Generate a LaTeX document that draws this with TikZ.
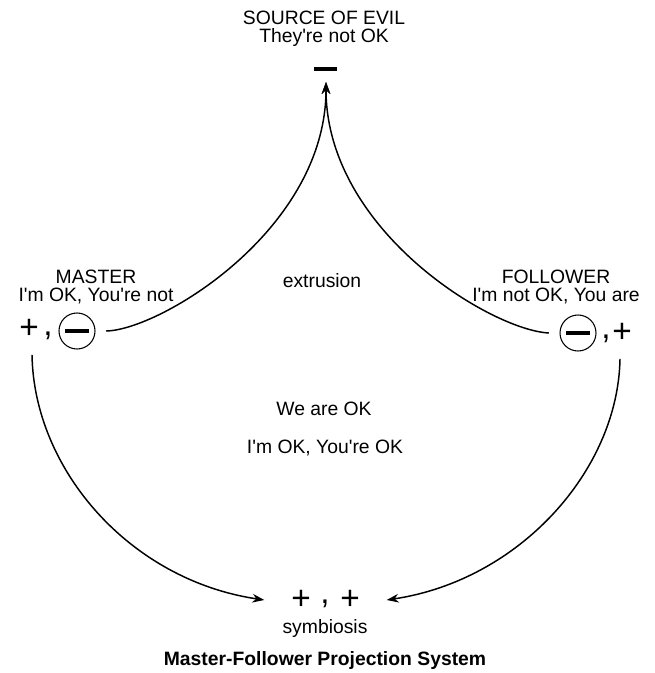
\documentclass[tikz,border=0pt]{standalone}
\usepackage{fontspec}
\setmainfont{Liberation Sans}[Ligatures=TeXOff]
\usetikzlibrary{arrows.meta,positioning}

\begin{document}
\begin{tikzpicture}[
                x=0.75pt, y=-0.75pt,
                lbl/.style={font=\fontsize{14.5}{13.6}\selectfont, inner sep=0pt, align=center},
                sym/.style={font=\fontsize{25}{30}\selectfont, inner sep=0pt},
                negcircle/.style={circle, draw, line width=0.8pt, minimum size=27pt, inner sep=0pt},
                arrow/.style={-{Stealth[length=9pt, width=6.5pt]}, line width=1.1pt}
            ]
                \useasboundingbox (0,0) rectangle (654,673);

                % Source of evil on top
                \node[lbl] (evil) at (324,29) {SOURCE OF EVIL\\They're not OK};
                \node[inner sep=0pt] (evilneg) at (325,69) {\rule{17.25pt}{2.4pt}};
                \coordinate (tip) at (326,82);

                % Master (left)
                \node[lbl] (master) at (96,287) {MASTER\\I'm OK, You're not};
                \node[sym] (mplus) at (29,329) {+};
                \node[sym] (mcomma) at (48,336) {,};
                \node[negcircle] (mneg) at (77,331) {\rule{18pt}{2.4pt}};

                % Follower (right)
                \node[lbl] (follower) at (556,287) {FOLLOWER\\I'm not OK, You are};
                \node[negcircle] (fneg) at (578,333) {\rule{18pt}{2.4pt}};
                \node[sym] (fcomma) at (606,339) {,};
                \node[sym] (fplus) at (622,333) {+};

                % Middle labels
                \node[lbl] (extrusion) at (322,281) {extrusion};
                \node[lbl] (weok) at (324,409) {We are OK};
                \node[lbl] (allok) at (325,448) {I'm OK, You're OK};

                % Symbiosis at the bottom
                \node[sym] (splus1) at (301,600) {+};
                \node[sym] (scomma) at (325,604) {,};
                \node[sym] (splus2) at (350,600) {+};
                \node[lbl] (symbiosis) at (325,628) {symbiosis};
                \node[lbl, font=\fontsize{14.5}{17}\selectfont\bfseries] (title) at (325,660) {Master-Follower Projection System};

                % Extrusion arrows
                \draw[arrow] ([xshift=8pt]mneg.east) .. controls (160,330) and (326,230) .. (tip);
                \draw[arrow] ([xshift=-8pt]fneg.west) .. controls (491,330) and (326,230) .. (tip);

                % Symbiosis arrows
                \draw[arrow] ([shift={(3,16)}]mplus.south) .. controls (34,470) and (130,580) .. ([xshift=-20pt]splus1.west);
                \draw[arrow] ([shift={(-2,16)}]fplus.south) .. controls (618,470) and (520,580) .. ([xshift=20pt]splus2.east);
            \end{tikzpicture}
\end{document}
